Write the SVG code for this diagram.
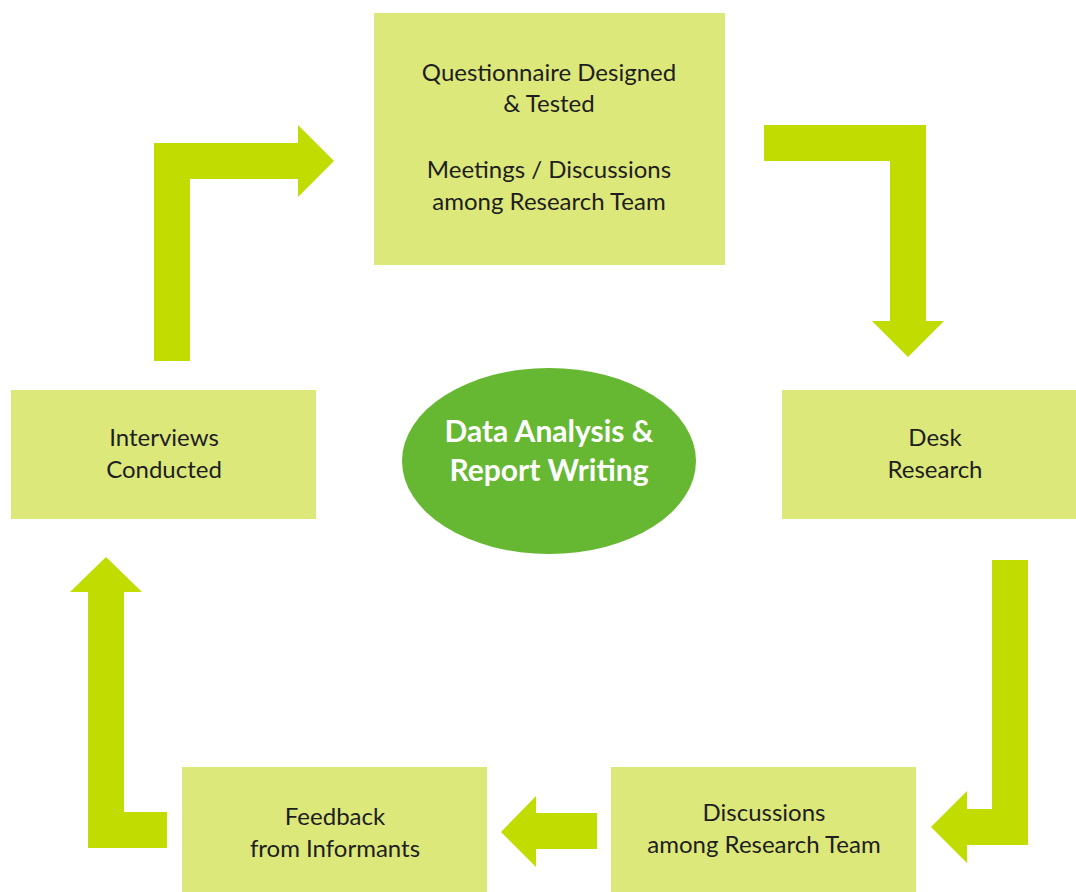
<svg xmlns="http://www.w3.org/2000/svg" width="1076" height="892" viewBox="0 0 1076 892">
  <style>
    .box { fill: #dce87a; }
    .arrow { fill: #c0dc00; }
    .hub { fill: #66b832; }
    .lbl { font-family: Lato, "Open Sans", "Liberation Sans", sans-serif; font-size: 24px; fill: #1e1e1e; text-anchor: middle; }
    .hubtxt { font-family: Lato, "Open Sans", "Liberation Sans", sans-serif; font-size: 30px; font-weight: bold; fill: #ffffff; text-anchor: middle; }
  </style>
  <rect width="1076" height="892" fill="#ffffff"/>

  <g id="connectors">
    <!-- Interviews -> Questionnaire -->
    <polygon class="arrow" points="154,361 154,143 298,143 298,125 334,161 298,197 298,179 190,179 190,361"/>
    <!-- Questionnaire -> Desk Research -->
    <polygon class="arrow" points="764,125 926,125 926,321 944,321 908,357 872,321 890,321 890,161 764,161"/>
    <!-- Desk Research -> Discussions -->
    <polygon class="arrow" points="992,560 1028,560 1028,845 967,845 967,863 931,827 967,791 967,809 992,809"/>
    <!-- Discussions -> Feedback -->
    <polygon class="arrow" points="597,813 597,849 536,849 536,867 501,832 536,796 536,813"/>
    <!-- Feedback -> Interviews -->
    <polygon class="arrow" points="167,848 88,848 88,592 70,592 106,557 142,592 124,592 124,812 167,812"/>
  </g>

  <g id="questionnaire">
    <rect class="box" x="374" y="13" width="351" height="252"/>
    <text class="lbl" x="549" y="81">Questionnaire Designed</text>
    <text class="lbl" x="549" y="112">&amp; Tested</text>
    <text class="lbl" x="549" y="178">Meetings / Discussions</text>
    <text class="lbl" x="549" y="210">among Research Team</text>
  </g>

  <g id="interviews">
    <rect class="box" x="11" y="390" width="305" height="129"/>
    <text class="lbl" x="164" y="446">Interviews</text>
    <text class="lbl" x="164" y="478">Conducted</text>
  </g>

  <g id="desk-research">
    <rect class="box" x="782" y="390" width="294" height="129"/>
    <text class="lbl" x="935" y="446">Desk</text>
    <text class="lbl" x="935" y="478">Research</text>
  </g>

  <g id="feedback">
    <rect class="box" x="182" y="767" width="305" height="125"/>
    <text class="lbl" x="335" y="825">Feedback</text>
    <text class="lbl" x="335" y="857">from Informants</text>
  </g>

  <g id="discussions">
    <rect class="box" x="611" y="767" width="305" height="125"/>
    <text class="lbl" x="764" y="821">Discussions</text>
    <text class="lbl" x="764" y="853">among Research Team</text>
  </g>

  <g id="data-analysis">
    <ellipse class="hub" cx="549" cy="461" rx="147" ry="93"/>
    <text class="hubtxt" x="549" y="442">Data Analysis &amp;</text>
    <text class="hubtxt" x="549" y="481">Report Writing</text>
  </g>
</svg>
